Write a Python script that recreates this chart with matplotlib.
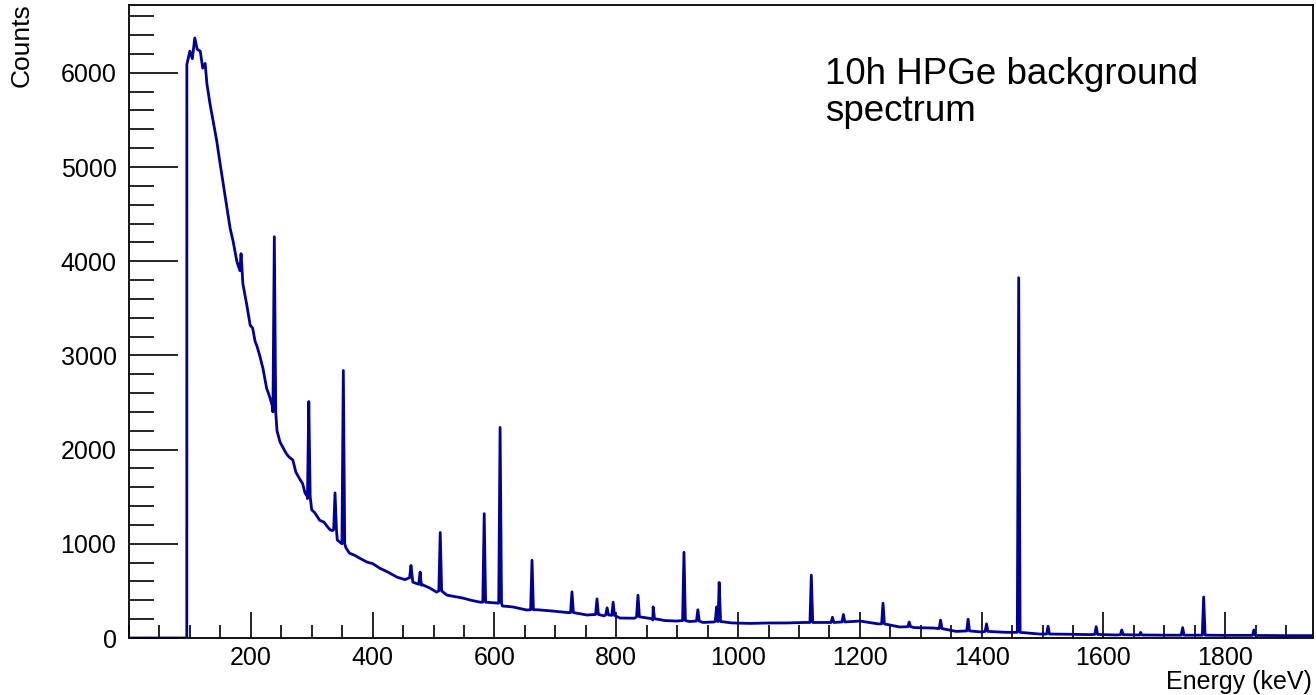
import numpy as np
import matplotlib
matplotlib.use("Agg")
import matplotlib.pyplot as plt
from matplotlib.ticker import MultipleLocator

plt.rcParams['font.family'] = ['Liberation Sans', 'DejaVu Sans']

# continuum of the background spectrum (keV, counts)
cont_energy = [0, 94.9, 95, 100, 104, 108, 112, 117, 121, 125, 128, 133, 138, 144,
               149, 154, 161, 166, 171, 177, 182, 184, 187, 193, 199, 203, 207,
               210, 215, 220, 226, 231, 235, 243, 248, 253, 258, 263, 269, 274,
               281, 285, 289, 293, 300, 305, 313, 320, 326, 330, 334, 342, 356,
               362, 370, 378, 391, 400, 412, 425, 440, 453, 466, 480, 494, 505,
               522, 535, 548, 562, 576, 597, 613, 630, 653, 670, 696, 720, 752,
               780, 806, 830, 860, 880, 899, 920, 942, 960, 990, 1020, 1047,
               1080, 1110, 1140, 1170, 1200, 1230, 1265, 1290, 1320, 1358, 1400,
               1440, 1495, 1540, 1577, 1620, 1659, 1700, 1750, 1800, 1850, 1900,
               1944]
cont_counts = [0, 0, 6090, 6230, 6150, 6370, 6250, 6230, 6050, 6100, 5880, 5670,
               5490, 5280, 5060, 4850, 4560, 4350, 4210, 4000, 3900, 4080, 3760,
               3550, 3320, 3290, 3150, 3100, 2990, 2860, 2650, 2560, 2470, 2200,
               2080, 2020, 1960, 1920, 1890, 1760, 1680, 1640, 1540, 1480, 1360,
               1330, 1250, 1230, 1180, 1150, 1140, 1040, 960, 900, 880, 850, 805,
               790, 740, 700, 646, 620, 593, 560, 530, 487, 455, 440, 424, 400,
               381, 375, 340, 330, 297, 300, 286, 270, 244, 235, 212, 210, 191,
               185, 180, 175, 165, 170, 160, 155, 159, 160, 165, 165, 170, 180,
               150, 117, 110, 106, 70, 64, 60, 42, 40, 36, 32, 32, 30, 30, 28, 27,
               25, 25]

# gamma lines: energy, peak top, level at the foot of the peak
peak_energy = [238.6, 295.2, 338.3, 351.9, 463.0, 478.0, 511.0, 583.2, 609.3,
               661.7, 727.3, 768.4, 785.0, 794.9, 835.7, 860.6, 911.2, 934.0,
               964.8, 969.0, 1120.3, 1155.0, 1173.0, 1238.0, 1281.0, 1332.5,
               1377.7, 1408.0, 1460.8, 1509.0, 1588.0, 1630.0, 1661.0, 1730.0,
               1764.5, 1847.0]
peak_top = [4260, 2510, 1540, 2840, 770, 700, 1120, 1320, 2235, 826, 490, 415,
            320, 380, 455, 330, 910, 300, 330, 590, 667, 220, 250, 370, 170, 190,
            200, 150, 3825, 125, 120, 85, 60, 110, 435, 85]
peak_base = [2400, 1500, 1150, 1000, 640, 570, 500, 380, 370, 300, 270, 250, 245,
             240, 225, 205, 185, 180, 175, 175, 165, 165, 170, 150, 120, 100, 75,
             70, 60, 42, 38, 35, 32, 30, 30, 28]

half_width = 2.3

# merge continuum and peaks into one polyline
e_pts = list(cont_energy)
c_pts = list(cont_counts)
for e, top, base in zip(peak_energy, peak_top, peak_base):
    e_pts += [e - half_width, e, e + half_width]
    c_pts += [base, top, base]
e_pts = np.array(e_pts)
c_pts = np.array(c_pts)
order = np.argsort(e_pts, kind='stable')
e_pts, c_pts = e_pts[order], c_pts[order]

fig = plt.figure(figsize=(13.16, 6.95), dpi=100)
ax = fig.add_axes([129 / 1316, 1 - 638 / 695, (1313 - 129) / 1316, (638 - 5) / 695])

ax.plot(e_pts, c_pts, color='#000099', lw=2.0)

ax.set_xlim(0, 1944)
ax.set_ylim(0, 6720)

ax.set_xticks(np.arange(200, 1801, 200))
ax.xaxis.set_minor_locator(MultipleLocator(50))
ax.set_yticks(np.arange(0, 6001, 1000))
ax.yaxis.set_minor_locator(MultipleLocator(200))

ax.tick_params(axis='both', which='both', direction='in', top=False, right=False,
               labelsize=18, width=1.2, colors='black')
ax.tick_params(axis='x', which='major', length=19, pad=6)
ax.tick_params(axis='x', which='minor', length=9.5)
ax.tick_params(axis='y', which='major', length=35, pad=9)
ax.tick_params(axis='y', which='minor', length=18)
for sp in ax.spines.values():
    sp.set_linewidth(1.3)

fig.text(22 / 1316, 1 - 3 / 695, 'Counts', rotation=90, ha='center', va='top',
         fontsize=19)
fig.text(1312 / 1316, 1 - 689 / 695, 'Energy (keV)', ha='right', va='baseline',
         fontsize=18)

fig.text(825 / 1316, 1 - 84 / 695, '10h HPGe background', ha='left',
         va='baseline', fontsize=26.5)
fig.text(825 / 1316, 1 - 121 / 695, 'spectrum', ha='left', va='baseline',
         fontsize=26.5)

fig.savefig('out.png', dpi=100)
